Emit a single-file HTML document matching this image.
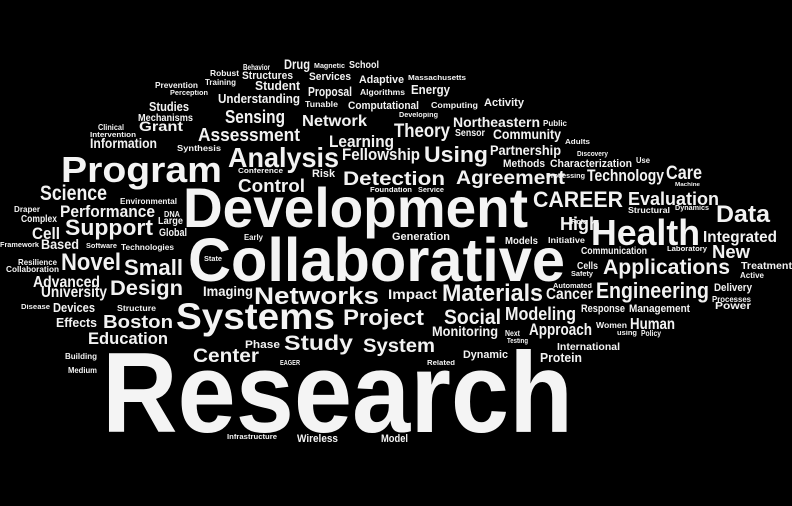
<!DOCTYPE html>
<html>
<head>
<meta charset="utf-8">
<style>
  html,body{margin:0;padding:0;background:#000;}
  #cloud{position:relative;width:792px;height:506px;background:#000;overflow:hidden;}
  .w{position:absolute;white-space:nowrap;font-family:"Liberation Sans",Arial,sans-serif;font-weight:bold;line-height:1;color:#f2f2f2;transform-origin:0 0;}
</style>
</head>
<body>
<div id="cloud"></div>
<script>
// [text, left x, baseline y, cap height, width]
const words = [
["Behavior",243,70,6,27],["Drug",284,70,10,26],["Magnetic",314,70,5,31],["School",349,69,7,30],
["Robust",210,76,6,29],["Structures",242,80,8,51],["Services",309,81,8,42],["Adaptive",359,84,8,45],
["Massachusetts",408,82,5,58],["Training",205,85,6,31],["Prevention",155,88,6,43],["Student",255,91,9,45],
["Proposal",308,97,9,44],["Algorithms",360,95,6,45],["Energy",411,95,9,39],["Perception",170,97,5,38],
["Understanding",218,104,9,82],["Tunable",305,107,6,33],["Computational",348,110,8,71],["Computing",431,108,6,47],
["Activity",484,107,8,40],["Studies",149,112,9,40],["Mechanisms",138,122,7,55],["Sensing",225,123,13,60],
["Network",302,127,11,65],["Developing",399,119,5,39],["Northeastern",453,128,10,87],["Public",543,126,6,24],
["Clinical",98,130,6,26],["Grant",139,132,10,44],["Intervention",90,139,5,46],["Assessment",198,141,13,102],
["Learning",329,148,12,65],["Theory",394,138,14,56],["Sensor",455,137,7,30],["Community",493,140,10,68],
["Adults",565,146,5,25],["Information",90,149,10,67],["Synthesis",177,151,6,44],["Partnership",490,156,10,71],
["Discovery",577,158,5,31],["Program",61,183,26,161],["Analysis",228,168,20,111],["Fellowship",342,161,12,78],
["Using",424,163,16,64],["Methods",503,168,8,42],["Characterization",550,168,8,82],["Use",636,163,6,14],
["Conference",238,175,5,45],["Risk",312,178,8,23],["Detection",343,186,14,102],["Agreement",456,185,14,109],
["Processing",546,180,5,39],["Technology",587,182,12,77],["Care",666,180,14,36],["Machine",675,188,4,25],
["Control",238,192,13,67],["Foundation",370,194,5,42],["Service",418,194,5,26],["Science",40,202,15,67],
["Environmental",120,204,6,57],["Development",183,228,40,345],["Evaluation",628,205,13,91],["CAREER",533,208,16,90],
["Performance",60,218,12,95],["DNA",164,217,6,16],["Draper",14,212,6,26],["Structural",628,213,6,42],
["Dynamics",675,212,5,34],["Data",716,224,17,54],["Complex",21,223,7,36],["Large",158,225,7,25],
["Support",65,236,16,88],["Cell",32,240,12,28],["Global",159,237,8,28],["Early",244,240,6,19],
["High",560,230,13,40],["Role",571,226,5,16],["Health",591,246,26,109],["Integrated",703,243,11,74],
["Models",505,245,7,33],["Initiative",548,243,6,37],["Generation",392,241,8,58],["Framework",0,249,5,39],
["Based",41,250,10,38],["Software",86,250,5,31],["Technologies",121,250,6,53],["State",204,263,5,18],
["Communication",581,255,7,66],["Laboratory",667,253,5,40],["New",712,258,13,38],["Resilience",18,265,6,39],
["Collaboration",6,272,6,53],["Novel",61,272,17,60],["Small",124,276,16,59],["Collaborative",188,282,44,377],
["Cells",577,270,7,21],["Safety",571,278,5,22],["Applications",603,276,15,127],["Treatment",741,270,7,51],
["Active",740,278,6,24],["Advanced",33,288,11,67],["Design",110,297,15,73],["Imaging",203,297,10,50],
["Networks",254,306,17,125],["Impact",388,300,10,49],["Materials",442,303,17,101],["Cancer",546,300,11,47],
["Automated",553,290,5,39],["Engineering",596,299,16,113],["Delivery",714,292,8,38],["Processes",712,302,6,39],
["Power",715,310,7,36],["University",41,298,11,66],["Disease",21,311,5,29],["Devices",53,313,9,42],
["Structure",117,311,6,39],["Systems",176,330,27,159],["Project",343,326,16,81],["Social",444,326,15,57],
["Modeling",505,320,13,71],["Response",581,313,8,44],["Management",629,313,8,61],["Effects",56,328,9,41],
["Boston",103,328,13,70],["Monitoring",432,337,10,66],["Next",505,336,6,15],["Testing",507,345,5,21],
["Approach",529,336,12,63],["Women",596,328,6,31],["Human",630,330,11,45],["using",617,337,5,20],
["Policy",641,336,6,20],["Education",88,345,12,80],["Study",284,352,15,69],["System",363,353,14,72],
["Phase",245,349,8,35],["Center",193,363,14,66],["Dynamic",463,359,8,45],["International",557,351,7,63],
["Protein",540,363,9,42],["EAGER",280,367,5,20],["Related",427,367,5,28],["Building",65,359,6,32],
["Medium",68,373,6,29],["Research",102,433,82,471],["Infrastructure",227,441,5,50],["Wireless",297,443,8,41],
["Model",381,443,8,27]
];
const cloud = document.getElementById('cloud');
words.forEach(function(w){
  const el = document.createElement('span');
  el.className = 'w';
  el.textContent = w[0];
  
  
  const fs = w[3] / 0.72;
  el.style.fontSize = fs + 'px';
  el.style.left = w[1] + 'px';
  el.style.top = (w[2] - 0.8465 * fs) + 'px';
  if (fs > 30) el.style.color = '#f4f4f4';
  cloud.appendChild(el);
  const mw = el.getBoundingClientRect().width;
  if (mw > 0) el.style.transform = 'scaleX(' + (w[4] / mw) + ')';
});
</script>
</body>
</html>
